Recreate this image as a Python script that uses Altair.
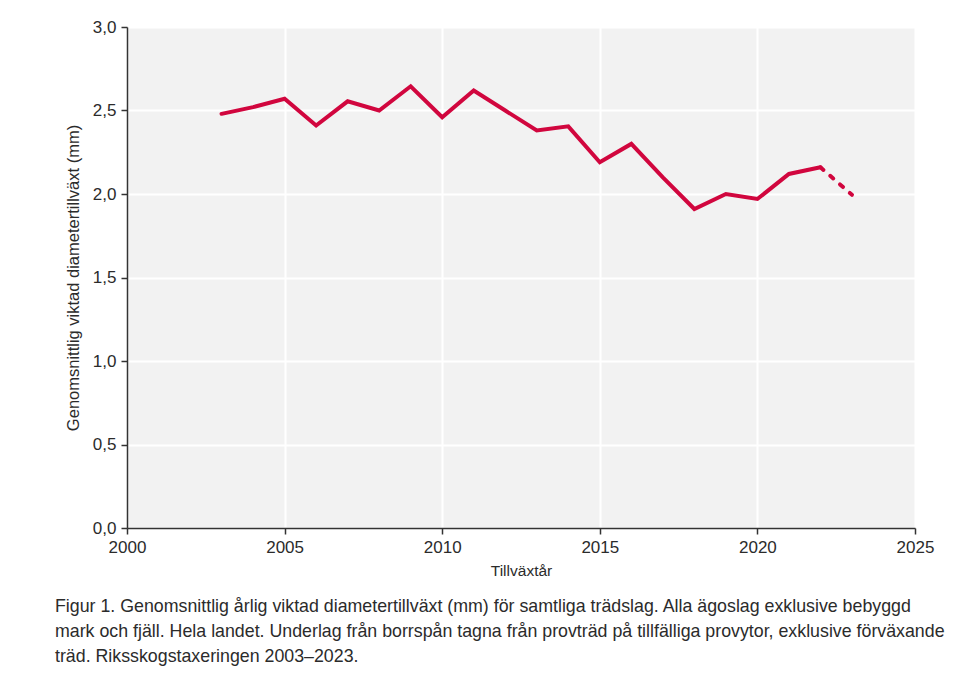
import altair as alt
import pandas as pd

years = list(range(2003, 2024))
values = [2.48, 2.52, 2.57, 2.41, 2.555, 2.50, 2.645, 2.46, 2.62, 2.50, 2.38,
          2.405, 2.19, 2.30, 2.10, 1.91, 2.00, 1.97, 2.12, 2.16, 1.995]
x_ticks = [2000, 2005, 2010, 2015, 2020, 2025]
y_ticks = [0, 0.5, 1.0, 1.5, 2.0, 2.5, 3.0]
caption = [
    "Figur 1. Genomsnittlig årlig viktad diametertillväxt (mm) för samtliga trädslag. Alla ägoslag exklusive bebyggd",
    "mark och fjäll. Hela landet. Underlag från borrspån tagna från provträd på tillfälliga provytor, exklusive förväxande",
    "träd. Riksskogstaxeringen 2003–2023.",
]

rows = []
for y, v in zip(years, values):
    if y <= 2022:
        rows.append({"year": y, "value": v, "seg": "solid"})
    if y >= 2022:
        rows.append({"year": y, "value": v, "seg": "dashed"})
df = pd.DataFrame(rows)

FONT = "Liberation Sans"
RED = "#D1063E"
TXT = "#2b2b2b"

base = alt.Chart(df).encode(
    x=alt.X("year:Q", scale=alt.Scale(domain=[2000, 2025], nice=False),
            axis=alt.Axis(values=x_ticks, format="d", title="Tillväxtår",
                          grid=True, gridColor="white", gridWidth=2,
                          domainColor="#333333", domainWidth=1.5,
                          tickColor="#333333", tickSize=6, tickWidth=1.5,
                          labelFontSize=17, labelColor=TXT, labelFont=FONT,
                          labelPadding=5, labelFlush=False,
                          titleFontSize=15.5, titleFontWeight="normal", titleColor=TXT,
                          titleFont=FONT, titlePadding=8)),
    y=alt.Y("value:Q", scale=alt.Scale(domain=[0, 3], nice=False),
            axis=alt.Axis(values=y_ticks,
                          labelExpr="replace(format(datum.value, '.1f'), '.', ',')",
                          title="Genomsnittlig viktad diametertillväxt (mm)",
                          grid=True, gridColor="white", gridWidth=2,
                          domainColor="#333333", domainWidth=1.5,
                          tickColor="#333333", tickSize=6, tickWidth=1.5,
                          labelFontSize=17, labelColor=TXT, labelFont=FONT,
                          labelPadding=5, labelFlush=False,
                          titleFontSize=16.5, titleFontWeight="normal", titleColor=TXT,
                          titleFont=FONT, titlePadding=11)),
)

solid = base.transform_filter(alt.datum.seg == "solid").mark_line(
    color=RED, strokeWidth=4, strokeJoin="miter", strokeCap="round")
dashed = base.transform_filter(alt.datum.seg == "dashed").mark_line(
    color=RED, strokeWidth=4, strokeDash=[4, 9], strokeCap="round")

chart = alt.layer(solid, dashed).properties(
    width=788, height=501,
    background="white",
    autosize=alt.AutoSizeParams(type="none"),
    padding={"left": 119, "top": 19, "right": 57, "bottom": 144},
    title=alt.TitleParams(
        text=caption, orient="bottom", anchor="start", frame="group",
        dx=-72, offset=19, fontSize=17.8, fontWeight="normal", color=TXT,
        font=FONT, lineHeight=25, align="left",
    ),
).configure_view(fill="#F2F2F2", stroke=None)

chart.save("out.html", embed_options={"renderer": "svg", "actions": False})
